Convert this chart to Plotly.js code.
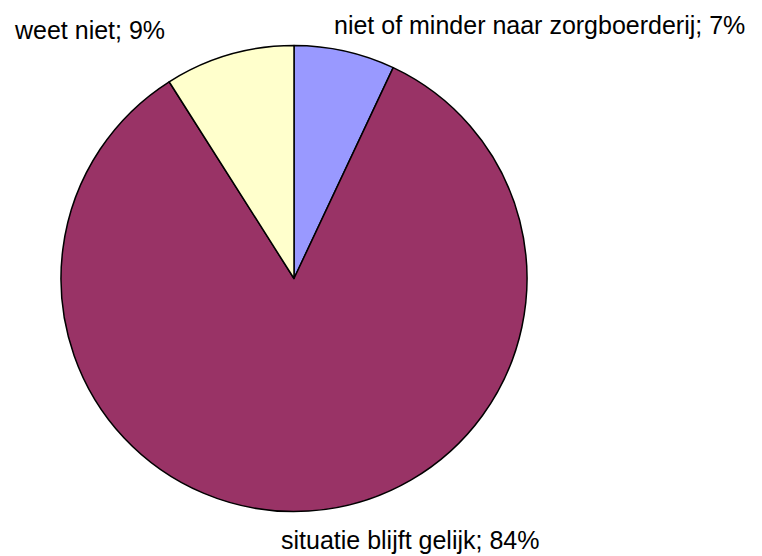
<!DOCTYPE html>
<html>
<head>
<meta charset="utf-8">
<script src="https://cdn.plot.ly/plotly-3.0.1.min.js"></script>
<style>html,body{margin:0;padding:0;background:#fff;}#chart{width:762px;height:556px;}</style>
</head>
<body>
<div id="chart"></div>
<script>
var labels = ["niet of minder naar zorgboerderij", "situatie blijft gelijk", "weet niet"];
var values = [7, 84, 9];
var colors = ["#9999FF", "#993366", "#FFFFCC"];

var W = 762, H = 556;
var labelPos = [
  {x: 539, y: 25},
  {x: 410, y: 540},
  {x: 89, y: 30}
];

var annotations = labels.map(function (l, i) {
  return {
    text: l + "; " + values[i] + "%",
    x: labelPos[i].x / W, y: 1 - labelPos[i].y / H,
    xref: "paper", yref: "paper",
    xanchor: "center", yanchor: "middle",
    showarrow: false,
    font: {family: "Liberation Sans, Arial, sans-serif", size: 25, color: "#000"}
  };
});

var data = [{
  type: "pie",
  labels: labels,
  values: values,
  sort: false,
  direction: "clockwise",
  rotation: 0,
  textinfo: "none",
  hoverinfo: "label+percent",
  marker: {colors: colors, line: {color: "#000", width: 1.5}},
  domain: {x: [61 / W, 527 / W], y: [(H - 512) / H, (H - 45) / H]}
}];

var layout = {
  width: W, height: H,
  margin: {l: 0, r: 0, t: 0, b: 0},
  paper_bgcolor: "#fff",
  showlegend: false,
  annotations: annotations
};

Plotly.newPlot("chart", data, layout, {displayModeBar: false, staticPlot: true});
</script>
</body>
</html>
